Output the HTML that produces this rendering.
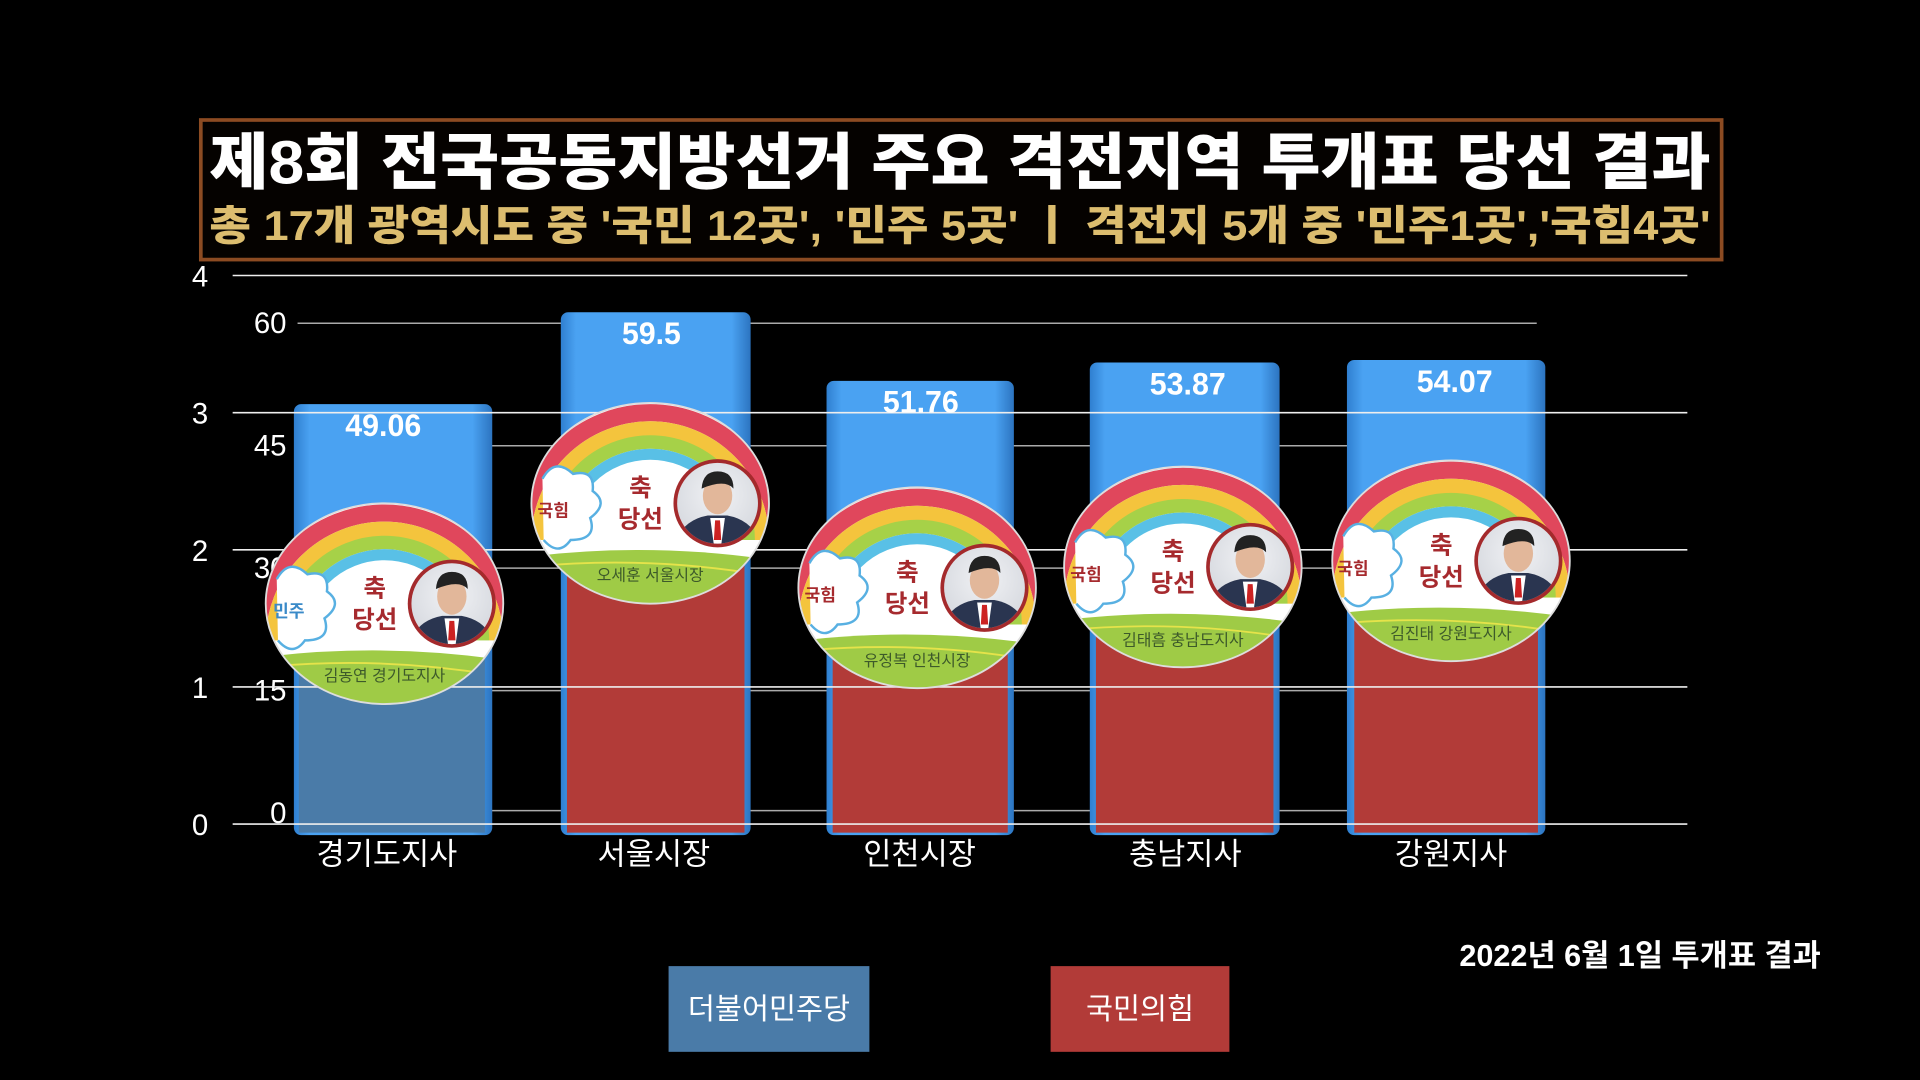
<!DOCTYPE html>
<html><head><meta charset="utf-8"><style>
html,body{margin:0;padding:0;background:#000;width:1920px;height:1080px;overflow:hidden}
svg{display:block}
text{font-family:"Liberation Sans","Noto Sans CJK KR",sans-serif}
</style></head><body>
<svg width="1920" height="1080" viewBox="0 0 1568 882" xmlns="http://www.w3.org/2000/svg">
<defs>
<linearGradient id="bl" x1="0" x2="1" y1="0" y2="0">
<stop offset="0" stop-color="#2f7fd0"/><stop offset="0.08" stop-color="#4aa2f2"/><stop offset="0.9" stop-color="#4aa2f2"/><stop offset="1" stop-color="#2c74c0"/></linearGradient>
<radialGradient id="face" cx="0.5" cy="0.4" r="0.6"><stop offset="0" stop-color="#f1f2f5"/><stop offset="1" stop-color="#d5d8de"/></radialGradient>
<clipPath id="ec"><ellipse cx="0" cy="0" rx="97" ry="82"/></clipPath>
<clipPath id="pc"><circle cx="0" cy="0" r="33"/></clipPath>
<g id="badge">
<g clip-path="url(#ec)">
<rect x="-100" y="-90" width="200" height="180" fill="#fff"/>
<circle cx="0" cy="30" r="104" fill="none" stroke="#e0475c" stroke-width="14"/>
<circle cx="0" cy="30" r="91" fill="none" stroke="#f4c43d" stroke-width="12"/>
<circle cx="0" cy="30" r="80" fill="none" stroke="#a6d148" stroke-width="11"/>
<circle cx="0" cy="30" r="70" fill="none" stroke="#59c0e6" stroke-width="9"/>
<rect x="-100" y="30" width="200" height="70" fill="#fff"/>
<path d="M-110,45 Q0,30 110,48 L110,100 L-110,100Z" fill="#9fcb46"/>
<path d="M-100,52 Q0,42 100,60" fill="none" stroke="#e5e34a" stroke-width="1.5"/>
</g>
<path d="M-88,-20 q10,-18 25,-4 q18,-4 16,14 q14,10 -2,22 q6,18 -16,18 q-10,14 -22,0" fill="#fff" stroke="#58b0e2" stroke-width="2"/>
<ellipse cx="0" cy="0" rx="97" ry="82" fill="none" stroke="#ddd" stroke-width="1.5"/>
<text x="-8" y="-6" font-size="20" font-weight="bold" fill="#a62a2e" text-anchor="middle">축</text>
<text x="-8" y="20" font-size="20" font-weight="bold" fill="#a62a2e" text-anchor="middle">당선</text>
<g transform="translate(55,0)">
<circle r="36" fill="#a42a2c"/>
<g clip-path="url(#pc)">
<rect x="-35" y="-35" width="70" height="70" fill="url(#face)"/>
<path d="M-35,35 Q-30,14 -8,10 L8,10 Q30,14 35,35Z" fill="#2a3550"/>
<path d="M-6,12 L6,12 L3,34 L-3,34Z" fill="#fff"/>
<path d="M-2,14 L2,14 L3,30 L-3,30Z" fill="#c22"/>
<ellipse cx="0" cy="-6" rx="12" ry="15" fill="#e2b79a"/>
<path d="M-13,-12 Q-12,-26 0,-26 Q13,-26 13,-12 Q6,-20 -13,-12Z" fill="#222"/>
</g>
</g>
</g>
</defs>
<rect width="1568" height="882" fill="#000"/>
<!-- title box -->
<rect x="164" y="98" width="1242" height="114" fill="#050200" stroke="#8c4b22" stroke-width="3"/>
<text x="171" y="150" font-size="50" font-weight="900" fill="#fff" textLength="1226" lengthAdjust="spacingAndGlyphs">제8회 전국공동지방선거 주요 격전지역 투개표 당선 결과</text>
<text x="171" y="196" font-size="34" font-weight="900" fill="#dcbd6f" textLength="1226" lengthAdjust="spacingAndGlyphs">총 17개 광역시도 중 '국민 12곳', '민주 5곳'  ㅣ  격전지 5개 중 '민주1곳','국힘4곳'</text>
<!-- secondary grid -->
<g stroke="#aaa" stroke-width="1.2">
<line x1="243" y1="264" x2="1255" y2="264"/><line x1="243" y1="364" x2="1255" y2="364"/><line x1="243" y1="464" x2="1255" y2="464"/><line x1="243" y1="564" x2="1255" y2="564"/><line x1="243" y1="662" x2="1255" y2="662"/>
</g>
<g font-size="24" fill="#fff" text-anchor="end">
<text x="234" y="272">60</text><text x="234" y="372">45</text><text x="234" y="472">30</text><text x="234" y="572">15</text><text x="234" y="672">0</text>
</g>
<!-- bars -->
<g>
<rect x="240" y="330" width="162" height="352" rx="6" fill="url(#bl)"/>
<rect x="244" y="500" width="152" height="180" fill="#4a7ba8"/>
<rect x="458" y="255" width="155" height="427" rx="6" fill="url(#bl)"/>
<rect x="463" y="420" width="145" height="260" fill="#b23b38"/>
<rect x="675" y="311" width="153" height="371" rx="6" fill="url(#bl)"/>
<rect x="680" y="490" width="143" height="190" fill="#b23b38"/>
<rect x="890" y="296" width="155" height="386" rx="6" fill="url(#bl)"/>
<rect x="895" y="470" width="145" height="210" fill="#b23b38"/>
<rect x="1100" y="294" width="162" height="388" rx="6" fill="url(#bl)"/>
<rect x="1106" y="465" width="150" height="215" fill="#b23b38"/>
</g>
<!-- primary grid -->
<g stroke="#eee" stroke-width="1.3">
<line x1="190" y1="225" x2="1378" y2="225"/><line x1="190" y1="337" x2="1378" y2="337"/><line x1="190" y1="449" x2="1378" y2="449"/><line x1="190" y1="561" x2="1378" y2="561"/><line x1="190" y1="673" x2="1378" y2="673"/>
</g>
<g font-size="24" fill="#fff" text-anchor="end">
<text x="170" y="234">4</text><text x="170" y="346">3</text><text x="170" y="458">2</text><text x="170" y="570">1</text><text x="170" y="682">0</text>
</g>
<g font-size="26" font-weight="bold" fill="#fff" text-anchor="middle">
<text x="313" y="356" textLength="62" lengthAdjust="spacingAndGlyphs">49.06</text>
<text x="532" y="281" textLength="48" lengthAdjust="spacingAndGlyphs">59.5</text>
<text x="752" y="337" textLength="62" lengthAdjust="spacingAndGlyphs">51.76</text>
<text x="970" y="322" textLength="62" lengthAdjust="spacingAndGlyphs">53.87</text>
<text x="1188" y="320" textLength="62" lengthAdjust="spacingAndGlyphs">54.07</text>
</g>
<!-- badges -->
<use href="#badge" x="314" y="493"/>
<use href="#badge" x="531" y="411"/>
<use href="#badge" x="749" y="480"/>
<use href="#badge" x="966" y="463"/>
<use href="#badge" x="1185" y="458"/>
<g font-size="14" font-weight="bold">
<text x="223" y="504" fill="#3a8ac8">민주</text>
<text x="439" y="422" fill="#a62a2e">국힘</text>
<text x="657" y="491" fill="#a62a2e">국힘</text>
<text x="874" y="474" fill="#a62a2e">국힘</text>
<text x="1092" y="469" fill="#a62a2e">국힘</text>
</g>
<g font-size="13" fill="#3d5a2a" text-anchor="middle">
<text x="314" y="556">김동연 경기도지사</text>
<text x="531" y="474">오세훈 서울시장</text>
<text x="749" y="544">유정복 인천시장</text>
<text x="966" y="527">김태흠 충남도지사</text>
<text x="1185" y="522">김진태 강원도지사</text>
</g>
<!-- categories -->
<g font-size="25" fill="#fff" text-anchor="middle">
<text x="316" y="706">경기도지사</text><text x="534" y="706">서울시장</text><text x="751" y="706">인천시장</text><text x="968" y="706">충남지사</text><text x="1185" y="706">강원지사</text>
</g>
<text x="1487" y="789" font-size="25" font-weight="bold" fill="#fff" text-anchor="end">2022년 6월 1일 투개표 결과</text>
<rect x="546" y="789" width="164" height="70" fill="#4a7ba8"/>
<text x="628" y="832" font-size="24" fill="#fff" text-anchor="middle">더불어민주당</text>
<rect x="858" y="789" width="146" height="70" fill="#b23b38"/>
<text x="931" y="832" font-size="24" fill="#fff" text-anchor="middle">국민의힘</text>
</svg>
</body></html>
